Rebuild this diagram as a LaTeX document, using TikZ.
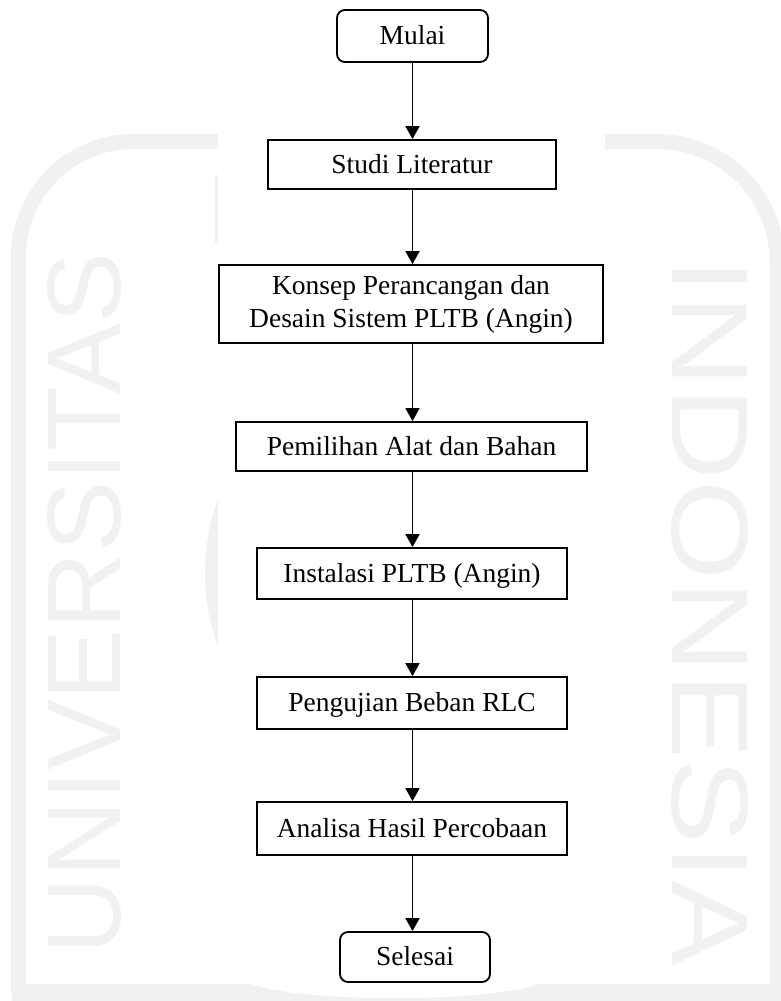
\documentclass[tikz,border=0pt]{standalone}
\usepackage{graphicx}
\usepackage{fontspec}
\setmainfont{Liberation Serif}
\newfontfamily\wmfont{Liberation Sans}
\usetikzlibrary{arrows.meta}
\definecolor{wm}{gray}{0.945}
\begin{document}
\begin{tikzpicture}[x=1pt,y=-1pt,
  boxbase/.style={draw=black,line width=1.8pt,fill=white,inner sep=0pt,font=\fontsize{27.5}{33}\selectfont},
  box/.style={boxbase,text height=18pt,text depth=1pt},
  term/.style={box,rounded corners=8pt},
  flow/.style={-{Triangle[width=14pt,length=13pt]},line width=1.8pt},
  wmline/.style={draw=wm,line width=15pt},
  wmtext/.style={text=wm,inner sep=0pt,font=\wmfont\fontsize{100}{100}\selectfont}]
\useasboundingbox (0,0) rectangle (781,1001);
% watermark
\draw[wmline,rounded corners=115pt] (218,141.5) -- (18.5,141.5) -- (18.5,992);
\draw[wmline,rounded corners=120pt] (605,141.5) -- (777,141.5) -- (777,992);
\draw[draw=wm,line width=17pt] (12,992) -- (781,992);
\fill[white] (250,983.5) .. controls (300,1003) and (490,1003) .. (540,983.5) -- cycle;
\begin{scope}
  \clip (0,0) rectangle (218,983);
  \draw[wm,line width=14pt] (420,573) circle[radius=208];
  \fill[wm] (215,175) rectangle (230,243);
\end{scope}
\node[wmtext,rotate=90] (wmu) at (84.5,603.5) {\resizebox{701pt}{73pt}{UNIVERSITAS}};
\node[wmtext,rotate=-90] (wmi) at (710,612.5) {\resizebox{707pt}{76pt}{INDONESIA}};
% flowchart
\node[term,minimum width=151pt,minimum height=52pt] (mulai) at (412.5,36) {Mulai};
\node[box,minimum width=288pt,minimum height=49pt] (studi) at (412,164.5) {Studi Literatur};
\node[boxbase,align=center,minimum width=384pt,minimum height=78pt] (konsep) at (411,304) {Konsep Perancangan dan\\Desain Sistem PLTB (Angin)};
\node[box,minimum width=351pt,minimum height=49pt] (pilih) at (411.5,446.5) {Pemilihan Alat dan Bahan};
\node[box,minimum width=310pt,minimum height=51pt] (instal) at (412,573.5) {Instalasi PLTB (Angin)};
\node[box,minimum width=310pt,minimum height=52pt] (uji) at (412,703) {Pengujian Beban RLC};
\node[box,minimum width=310pt,minimum height=53pt] (analisa) at (412,828.5) {Analisa Hasil Percobaan};
\node[term,minimum width=150pt,minimum height=50pt] (selesai) at (415,957) {Selesai};
\coordinate (ax) at (412.5,0);
\foreach \a/\b in {mulai/studi,studi/konsep,konsep/pilih,pilih/instal,instal/uji,uji/analisa,analisa/selesai}
  \draw[flow] (ax |- \a.south) -- (ax |- \b.north);
\end{tikzpicture}
\end{document}
